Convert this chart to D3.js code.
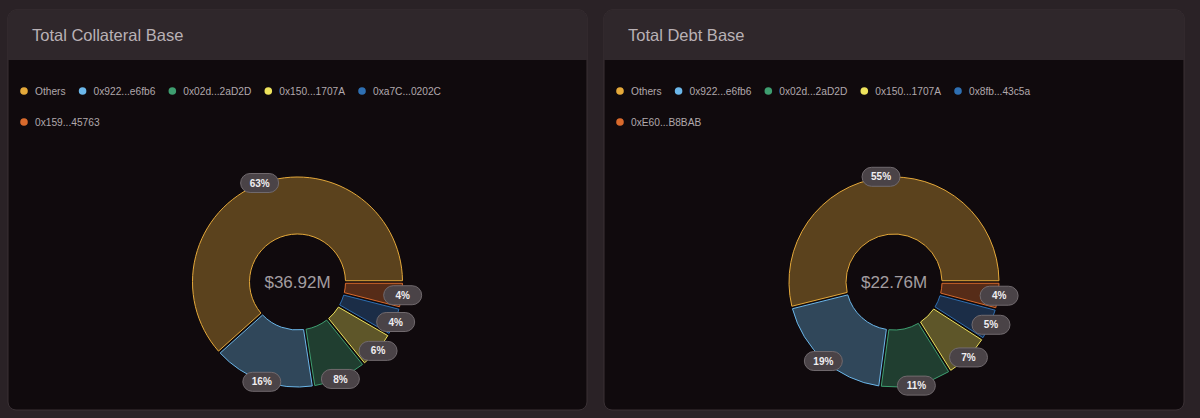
<!DOCTYPE html>
<html>
<head>
<meta charset="utf-8">
<script src="https://cdn.jsdelivr.net/npm/d3@7"></script>
<style>
  body { margin: 0; background: #2a2226; }
  svg { display: block; font-family: "Liberation Sans", Arial, sans-serif; }
</style>
</head>
<body>
<svg width="1200" height="418"></svg>
<script>
// values in $M (percent labels + centre totals)
var titles = ["Total Collateral Base", "Total Debt Base"];
var totals = ["$36.92M", "$22.76M"];

var collateralNames = ["Others", "0x922...e6fb6", "0x02d...2aD2D", "0x150...1707A", "0xa7C...0202C", "0x159...45763"];
var collateralValues = [23.11, 5.83, 3.03, 2.07, 1.51, 1.37];

var debtNames = ["Others", "0x922...e6fb6", "0x02d...2aD2D", "0x150...1707A", "0x8fb...43c5a", "0xE60...B8BAB"];
var debtValues = [12.45, 4.33, 2.48, 1.55, 1.07, 0.88];

var palette = ["#e5a93a", "#6bb7ea", "#3e9e70", "#eee35c", "#2e6fb2", "#d96a2c"];

var bg = "#100a0d";
var svg = d3.select("svg");

var cards = [
    { x: 8, w: 579, names: collateralNames, values: collateralValues },
    { x: 604, w: 580, names: debtNames, values: debtValues }
];

var pie = d3.pie().sort(null)
    .startAngle(Math.PI / 2)
    .endAngle(Math.PI / 2 - 2 * Math.PI)
    .padAngle(0.022);

var inner = 48, outer = 105;
var arc = d3.arc().innerRadius(inner).outerRadius(outer);

cards.forEach(function (c, ci) {
    var card = svg.append("g").attr("transform", "translate(" + c.x + ",10)");
    var h = 400;

    // card body + header
    card.append("rect")
        .attr("width", c.w).attr("height", h)
        .attr("rx", 8)
        .attr("fill", bg)
        .attr("stroke", "#3a3135");
    card.append("path")
        .attr("d", "M0,50 V8 A8,8 0 0 1 8,0 H" + (c.w - 8) + " A8,8 0 0 1 " + c.w + ",8 V50 Z")
        .attr("fill", "#2f272b");

    card.append("text")
        .attr("x", 24).attr("y", 31)
        .attr("font-size", "16.5px")
        .attr("fill", "#b9b1b5")
        .text(titles[ci]);

    // legend
    var color = d3.scaleOrdinal().domain(c.names).range(palette);
    var lx = 16, ly = 81, maxW = 470;
    c.names.forEach(function (n) {
        var item = card.append("g");
        item.append("circle").attr("r", 3.8).attr("fill", color(n));
        var t = item.append("text")
            .attr("x", 11).attr("y", 4)
            .attr("font-size", "10.2px")
            .attr("fill", "#b0a8ac")
            .text(n);
        var w = 11 + t.node().getComputedTextLength() + 17;
        if (lx + w > maxW) { lx = 16; ly += 31; }
        item.attr("transform", "translate(" + lx + "," + ly + ")");
        lx += w;
    });

    // donut
    var cx = c.w / 2, cy = 272;
    var total = d3.sum(c.values);
    var g = card.append("g").attr("transform", "translate(" + cx + "," + cy + ")");
    var arcs = pie(c.values);

    g.selectAll("path.slice")
        .data(arcs)
        .enter()
        .append("path")
        .attr("class", "slice")
        .attr("d", arc)
        .attr("fill", function (d, i) { return d3.interpolateRgb(bg, color(c.names[i]))(0.35); })
        .attr("stroke", function (d, i) { return color(c.names[i]); })
        .attr("stroke-width", 1);

    g.append("text")
        .attr("text-anchor", "middle")
        .attr("y", 6)
        .attr("font-size", "17px")
        .attr("fill", "#a39da0")
        .text(totals[ci]);

    // percent pills on the outer edge
    var labels = g.selectAll("g.lbl")
        .data(arcs)
        .enter()
        .append("g")
        .attr("class", "lbl")
        .attr("transform", function (d) {
            var a = (d.startAngle + d.endAngle) / 2, r = outer + 1;
            return "translate(" + (Math.sin(a) * r) + "," + (-Math.cos(a) * r) + ")";
        });
    labels.append("rect")
        .attr("x", -19).attr("y", -9.5)
        .attr("width", 38).attr("height", 19)
        .attr("rx", 9.5)
        .attr("fill", "#4a4347")
        .attr("stroke", "#716a6e");
    labels.append("text")
        .attr("text-anchor", "middle")
        .attr("y", 3.6)
        .attr("font-size", "10px")
        .attr("font-weight", "bold")
        .attr("fill", "#f0eef0")
        .text(function (d) { return Math.round(d.value / total * 100) + "%"; });
});
</script>
</body>
</html>
